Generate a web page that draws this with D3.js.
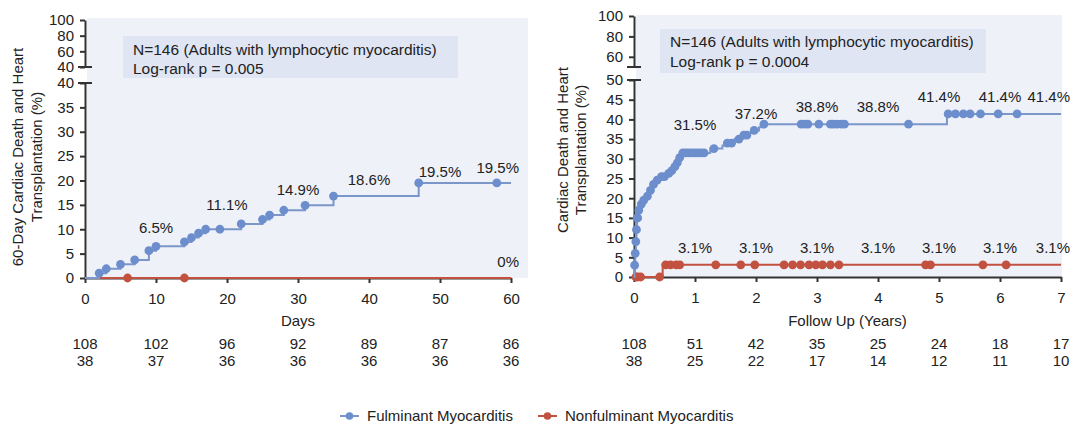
<!DOCTYPE html>
<html>
<head>
<meta charset="utf-8">
<script src="https://cdn.jsdelivr.net/npm/d3@7"></script>
<style>
  html, body { margin: 0; padding: 0; background: #fff; }
  svg { display: block; }
</style>
</head>
<body>
<svg id="fig" width="1079" height="427"></svg>
<script>
// ---- 60-day panel (days) ----
const dayTicks = [0, 10, 20, 30, 40, 50, 60];
const dayFulmSteps = [0, 2, 3, 5, 7, 9, 10, 14, 15, 16, 17, 22, 25, 26, 28, 31, 35, 47, 60];
const dayFulmPct   = [0, 1.0, 1.9, 2.8, 3.7, 5.6, 6.5, 7.4, 8.3, 9.2, 10.0, 11.1, 12.0, 12.9, 13.9, 14.9, 16.8, 19.5, 19.5];
const dayFulmCensor = [2, 3, 5, 7, 9, 10, 14, 15, 16, 17, 19, 22, 25, 26, 28, 31, 35, 47, 58];
const dayNonSteps = [0, 60];
const dayNonPct   = [0, 0];
const dayNonCensor = [6, 14];
const dayFulmLabelAt = [10, 20, 30, 40, 50, 60];
const dayFulmLabels  = [6.5, 11.1, 14.9, 18.6, 19.5, 19.5];
const dayNonLabelAt = [60];
const dayNonLabels  = [0];
const dayRiskFulm = [108, 102, 96, 92, 89, 87, 86];
const dayRiskNon  = [38, 37, 36, 36, 36, 36, 36];

// ---- long-term panel (years) ----
const yearTicks = [0, 1, 2, 3, 4, 5, 6, 7];
const yearFulmSteps = [0, 0.01, 0.02, 0.03, 0.04, 0.05, 0.07, 0.1, 0.14, 0.2, 0.25, 0.3, 0.36, 0.42, 0.55, 0.6, 0.65, 0.69, 0.73, 0.77, 1.25, 1.45, 1.53, 1.65, 1.78, 1.9, 1.94, 2.05, 2.13, 5.13, 7];
const yearFulmPct   = [0, 3, 6, 9, 12, 15, 17, 18.5, 19.5, 20.5, 22, 23.5, 24.6, 25.5, 26.3, 27, 28, 29, 30.3, 31.5, 32.6, 33.4, 34, 35, 36, 36.6, 37.2, 38, 38.8, 41.4, 41.4];
const yearFulmCensor = [0.01, 0.02, 0.03, 0.04, 0.05, 0.06, 0.08, 0.12, 0.16, 0.22, 0.27, 0.32, 0.38, 0.45, 0.5, 0.57, 0.62, 0.67, 0.71, 0.75, 0.8, 0.85, 0.9, 0.95, 1.0, 1.05, 1.1, 1.15, 1.31, 1.53, 1.6, 1.72, 1.8, 1.85, 1.97, 2.13, 2.74, 2.8, 2.85, 3.03, 3.22, 3.27, 3.33, 3.4, 3.45, 4.5, 5.15, 5.27, 5.4, 5.51, 5.68, 5.97, 6.28];
const yearNonSteps = [0, 0.47, 7];
const yearNonPct   = [0, 3.1, 3.1];
const yearNonCensor = [0.03, 0.06, 0.11, 0.42, 0.52, 0.6, 0.69, 0.75, 1.34, 1.75, 1.98, 2.46, 2.6, 2.73, 2.87, 2.98, 3.09, 3.22, 3.36, 4.78, 4.86, 5.72, 6.1];
const yearFulmLabelAt = [1, 2, 3, 4, 5, 6, 7];
const yearFulmLabels  = [31.5, 37.2, 38.8, 38.8, 41.4, 41.4, 41.4];
const yearNonLabelAt = [1, 2, 3, 4, 5, 6, 7];
const yearNonLabels  = [3.1, 3.1, 3.1, 3.1, 3.1, 3.1, 3.1];
const yearRiskFulm = [108, 51, 42, 35, 25, 24, 18, 17];
const yearRiskNon  = [38, 25, 22, 17, 14, 12, 11, 10];

const seriesNames = ["Fulminant Myocarditis", "Nonfulminant Myocarditis"];

// ---- styling ----
const FONT = '"Liberation Sans", Arial, Helvetica, sans-serif';
const BLUE = "#6d8ecd";
const BLUE_LINE = "#7b96c9";
const RED = "#c2513f";
const INK = "#222";
const AXIS = "#333";
const PANEL = "#eef1f8";
const BOX = "#dfe5f2";

const svg = d3.select("#fig");

function stepValue(ts, vs, t) {
  let v = vs[0];
  for (let i = 0; i < ts.length; i++) if (ts[i] <= t + 1e-9) v = vs[i];
  return v;
}

function drawChart(c) {
  const g = svg.append("g");
  const x = d3.scaleLinear().domain(c.xDomain).range(c.xRange);
  const yLow = d3.scaleLinear().domain(c.lowDomain).range(c.lowRange);
  const yTop = d3.scaleLinear().domain(c.topDomain).range(c.topRange);
  const x0 = c.xRange[0];

  // plotting panel
  g.append("rect")
    .attr("x", x0 + 2).attr("y", c.panelTop)
    .attr("width", c.panelRight - x0 - 2).attr("height", yLow(0) - c.panelTop)
    .attr("fill", PANEL);

  // annotation box
  g.append("rect")
    .attr("x", c.box[0]).attr("y", c.box[1]).attr("width", c.box[2]).attr("height", c.box[3])
    .attr("fill", BOX);
  c.boxText.forEach((t, i) => {
    g.append("text")
      .attr("x", c.box[0] + 10).attr("y", c.boxTextY[i])
      .attr("dy", "0.35em")
      .attr("font-family", FONT).attr("font-size", 15.5).attr("fill", INK)
      .text(t);
  });

  // y axes (broken)
  const styleAxis = sel => {
    sel.selectAll("path.domain").attr("stroke", AXIS).attr("stroke-width", 2);
    sel.selectAll(".tick line").attr("stroke", AXIS).attr("stroke-width", 2);
    sel.selectAll(".tick text").attr("font-family", FONT).attr("font-size", 15).attr("fill", INK);
  };
  g.append("g").attr("transform", `translate(${x0},0)`)
    .call(d3.axisLeft(yLow).tickValues(c.lowTicks).tickSize(5).tickSizeOuter(0).tickPadding(6))
    .call(styleAxis);
  g.append("g").attr("transform", `translate(${x0},0)`)
    .call(d3.axisLeft(yTop).tickValues(c.topTicks).tickSize(5).tickSizeOuter(0).tickPadding(6))
    .call(styleAxis);
  // break caps
  [yLow(c.lowDomain[1]), yTop(c.topDomain[0])].forEach(yy => {
    g.append("line")
      .attr("x1", x0 - 7).attr("x2", x0 + 7).attr("y1", yy).attr("y2", yy)
      .attr("stroke", AXIS).attr("stroke-width", 2);
  });

  // x axis
  g.append("g").attr("transform", `translate(0,${yLow(0)})`)
    .call(d3.axisBottom(x).tickValues(c.xTicks).tickFormat(d3.format("d"))
      .tickSize(5).tickSizeOuter(0).tickPadding(10))
    .call(styleAxis);

  // axis titles
  g.append("text")
    .attr("x", x(c.xTitleAt)).attr("y", c.xTitleY).attr("dy", "0.35em")
    .attr("text-anchor", "middle")
    .attr("font-family", FONT).attr("font-size", 15).attr("fill", INK)
    .text(c.xTitle);
  c.yTitle.forEach((t, i) => {
    g.append("text")
      .attr("transform", `translate(${c.yTitleX[i]},${c.yTitleCY}) rotate(-90)`)
      .attr("dy", "0.35em")
      .attr("text-anchor", "middle")
      .attr("font-family", FONT).attr("font-size", 15).attr("fill", INK)
      .text(t);
  });

  // number at risk
  [c.riskFulm, c.riskNon].forEach((row, r) => {
    g.selectAll(null).data(row).enter().append("text")
      .attr("x", (d, i) => x(c.xTicks[i]))
      .attr("y", c.riskY[r]).attr("dy", "0.35em")
      .attr("text-anchor", "middle")
      .attr("font-family", FONT).attr("font-size", 15).attr("fill", INK)
      .text(d => d);
  });

  // curves
  const line = d3.line().x(d => x(d[0])).y(d => yLow(d[1])).curve(d3.curveStepAfter);
  c.series.forEach(s => {
    const pts = s.steps.map((t, i) => [t, s.pct[i]]);
    g.append("path").datum(pts)
      .attr("d", line).attr("fill", "none")
      .attr("stroke", s.line).attr("stroke-width", 2);
    g.selectAll(null).data(s.censor).enter().append("circle")
      .attr("cx", d => x(d))
      .attr("cy", d => yLow(stepValue(s.steps, s.pct, d)))
      .attr("r", 4.4)
      .attr("fill", s.color);
  });

  // value labels
  c.series.forEach(s => {
    s.labels.forEach((v, i) => {
      const t = s.labelAt[i];
      const last = t === c.xDomain[1];
      g.append("text")
        .attr("x", last ? x(t) + c.endPad : x(t))
        .attr("y", yLow(v) - c.labelLift + (s.nudge ? s.nudge[i] : 0))
        .attr("dy", "0.35em")
        .attr("text-anchor", last ? "end" : "middle")
        .attr("font-family", FONT).attr("font-size", 15).attr("fill", INK)
        .text(v + "%");
    });
  });
}

drawChart({
  xDomain: [0, 60], xRange: [85, 511], xTicks: dayTicks,
  lowDomain: [0, 40], lowRange: [278, 83], lowTicks: [0, 5, 10, 15, 20, 25, 30, 35, 40],
  topDomain: [40, 100], topRange: [67, 20], topTicks: [40, 60, 80, 100],
  panelTop: 18, panelRight: 528,
  box: [123, 36, 335, 42], boxText: ["N=146 (Adults with lymphocytic myocarditis)", "Log-rank p = 0.005"], boxTextY: [50, 69],
  xTitle: "Days", xTitleAt: 30, xTitleY: 321,
  yTitle: ["60-Day Cardiac Death and Heart", "Transplantation (%)"], yTitleX: [18, 37], yTitleCY: 157,
  riskFulm: dayRiskFulm, riskNon: dayRiskNon, riskY: [344, 361],
  labelLift: 16, endPad: 8,
  series: [
    { steps: dayNonSteps, pct: dayNonPct, censor: dayNonCensor, color: RED, line: RED,
      labels: dayNonLabels, labelAt: dayNonLabelAt },
    { steps: dayFulmSteps, pct: dayFulmPct, censor: dayFulmCensor, color: BLUE, line: BLUE_LINE,
      labels: dayFulmLabels, labelAt: dayFulmLabelAt, nudge: [-3, -3, 0, 8, 5, 1] }
  ]
});

drawChart({
  xDomain: [0, 7], xRange: [634, 1061], xTicks: yearTicks,
  lowDomain: [0, 50], lowRange: [277, 80], lowTicks: [0, 5, 10, 15, 20, 25, 30, 35, 40, 45, 50],
  topDomain: [50, 100], topRange: [67, 16], topTicks: [60, 80, 100],
  panelTop: 15, panelRight: 1062,
  box: [660, 29, 326, 44], boxText: ["N=146 (Adults with lymphocytic myocarditis)", "Log-rank p = 0.0004"], boxTextY: [42, 62],
  xTitle: "Follow Up (Years)", xTitleAt: 3.5, xTitleY: 321,
  yTitle: ["Cardiac Death and Heart", "Transplantation (%)"], yTitleX: [563, 581], yTitleCY: 150,
  riskFulm: yearRiskFulm, riskNon: yearRiskNon, riskY: [344, 361],
  labelLift: 17, endPad: 9,
  series: [
    { steps: yearNonSteps, pct: yearNonPct, censor: yearNonCensor, color: RED, line: RED,
      labels: yearNonLabels, labelAt: yearNonLabelAt },
    { steps: yearFulmSteps, pct: yearFulmPct, censor: yearFulmCensor, color: BLUE, line: BLUE_LINE,
      labels: yearFulmLabels, labelAt: yearFulmLabelAt, nudge: [-11, 0, 0, 0, 0, 0, 0] }
  ]
});

// legend
const legend = svg.append("g").attr("transform", "translate(0,416)");
const legendItems = [
  { name: seriesNames[0], color: BLUE, line: BLUE_LINE, x: 340 },
  { name: seriesNames[1], color: RED, line: RED, x: 538 }
];
legendItems.forEach(it => {
  legend.append("line").attr("x1", it.x).attr("x2", it.x + 19).attr("y1", 0).attr("y2", 0)
    .attr("stroke", it.line).attr("stroke-width", 2);
  legend.append("circle").attr("cx", it.x + 9.5).attr("cy", 0).attr("r", 3.8).attr("fill", it.color);
  legend.append("text").attr("x", it.x + 27).attr("y", 0).attr("dy", "0.35em")
    .attr("font-family", FONT).attr("font-size", 15).attr("fill", INK)
    .text(it.name);
});
</script>
</body>
</html>
